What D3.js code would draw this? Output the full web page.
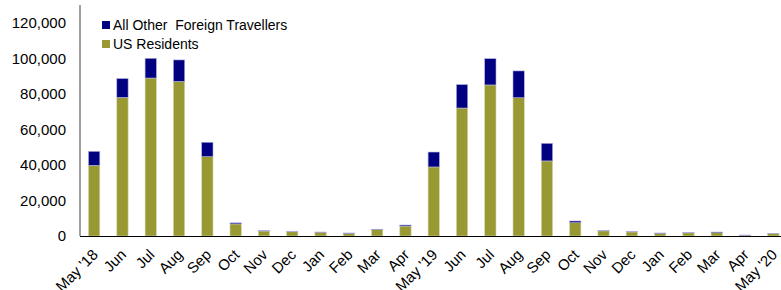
<!DOCTYPE html>
<html>
<head>
<meta charset="utf-8">
<script src="https://cdn.jsdelivr.net/npm/d3@7"></script>
<style>
  body { margin: 0; background: #fff; }
  svg text { font-family: "Liberation Sans", Arial, sans-serif; fill: #000; }
</style>
</head>
<body>
<div id="chart"></div>
<script>
// --- DATA ---
const months = ["May '18","Jun","Jul","Aug","Sep","Oct","Nov","Dec","Jan","Feb","Mar","Apr",
                "May '19","Jun","Jul","Aug","Sep","Oct","Nov","Dec","Jan","Feb","Mar","Apr","May '20"];
const usResidents = [39800, 78100, 89000, 87100, 44700, 6800, 2800, 2400, 2100, 1500, 3600, 5600,
                     38900, 72100, 85100, 77900, 42300, 7500, 2900, 2300, 1500, 1800, 1900, 400, 1400];
const otherForeign = [7900, 10600, 11100, 12100, 8100, 600, 200, 200, 150, 200, 200, 600,
                      8400, 13200, 14800, 15100, 9900, 950, 100, 150, 200, 300, 350, 160, 100];
const yTicks = [0, 20000, 40000, 60000, 80000, 100000, 120000];
const seriesNames = ["All Other  Foreign Travellers", "US Residents"];
const colors = { other: "#000080", us: "#999933" };

// --- SETUP ---
const width = 781, height = 290;
const svg = d3.select('#chart').append('svg')
  .attr('width', width).attr('height', height);

const x = d3.scaleBand()
  .domain(d3.range(months.length))
  .range([80, 787.5])
  .paddingInner(0.6)
  .paddingOuter(0.3);

const y = d3.scaleLinear()
  .domain([0, 120000])
  .range([236, 23]);

// y labels (no tick marks)
svg.append('g')
  .selectAll('text')
  .data(yTicks)
  .enter().append('text')
    .attr('x', 66)
    .attr('y', d => y(d))
    .attr('dy', '0.35em')
    .attr('text-anchor', 'end')
    .style('font-size', '15px')
    .text(d => d3.format(',')(d));

// bars
const data = months.map((m, i) => ({ i, us: usResidents[i], other: otherForeign[i] }));
const bars = svg.append('g');
bars.selectAll('rect.us')
  .data(data)
  .enter().append('rect')
    .attr('class', 'us')
    .attr('x', d => x(d.i))
    .attr('width', x.bandwidth())
    .attr('y', d => y(d.us))
    .attr('height', d => y(0) - y(d.us))
    .attr('fill', colors.us)
    .attr('stroke', '#d8d8b0')
    .attr('stroke-width', 0.6);
bars.selectAll('rect.other')
  .data(data)
  .enter().append('rect')
    .attr('class', 'other')
    .attr('x', d => x(d.i))
    .attr('width', x.bandwidth())
    .attr('y', d => y(d.us + d.other))
    .attr('height', d => y(d.us) - y(d.us + d.other))
    .attr('fill', colors.other)
    .attr('stroke', '#b0b0e0')
    .attr('stroke-width', 0.6);

// axes lines
svg.append('line')
  .attr('x1', 80).attr('x2', 80).attr('y1', 5).attr('y2', 236)
  .attr('stroke', '#808080').attr('stroke-width', 1.5);
svg.append('line')
  .attr('x1', 80).attr('x2', 781).attr('y1', 236.5).attr('y2', 236.5)
  .attr('stroke', '#000').attr('stroke-width', 1.2);

// x labels, rotated
svg.append('g')
  .selectAll('text')
  .data(months)
  .enter().append('text')
    .attr('transform', (d, i) => `translate(${x(i) + x.bandwidth() / 2 + 1},252) rotate(-45)`)
    .attr('text-anchor', 'end')
    .attr('dy', '0.35em')
    .style('font-size', '15px')
    .text(d => d);

// legend
const legend = svg.append('g').attr('transform', 'translate(102,20)');
[colors.other, colors.us].forEach((c, k) => {
  const g = legend.append('g').attr('transform', `translate(0,${k * 19})`);
  g.append('rect').attr('width', 8).attr('height', 8).attr('y', 1).attr('fill', c);
  g.append('text').attr('x', 11).attr('y', 5).attr('dy', '0.35em')
    .style('font-size', '14px')
    .attr('xml:space', 'preserve')
    .text(seriesNames[k]);
});
</script>
</body>
</html>
